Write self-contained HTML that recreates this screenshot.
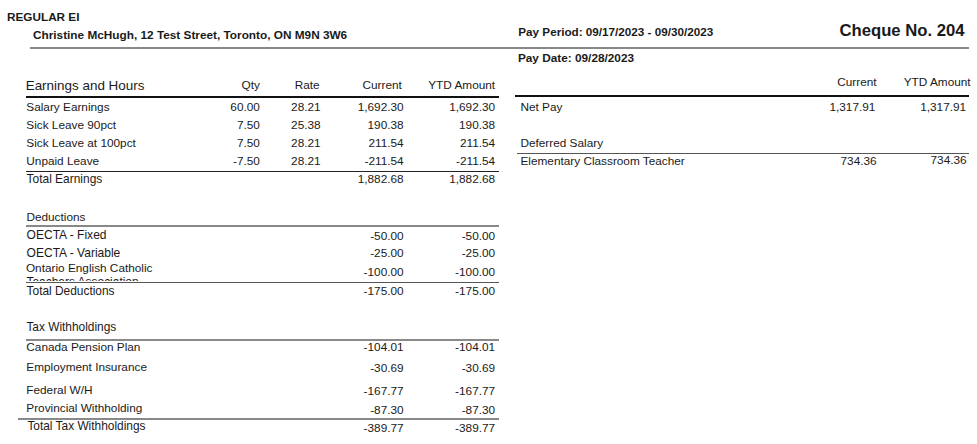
<!DOCTYPE html>
<html><head><meta charset="utf-8"><title>Pay Stub</title>
<style>
html,body{margin:0;padding:0;background:#fff;}
body{width:977px;height:444px;position:relative;overflow:hidden;font-family:"Liberation Sans",sans-serif;color:#1a1a1a;}
.t{position:absolute;white-space:nowrap;line-height:0;}
.r{text-align:right;}
.ln{position:absolute;}
.clip{position:absolute;overflow:hidden;}
</style></head><body>

<div class="t" style="top:16.93px;font-size:11.75px;font-weight:bold;left:7.00px;">REGULAR EI</div>
<div class="t" style="top:34.71px;font-size:11.8px;font-weight:bold;left:33.00px;">Christine McHugh, 12 Test Street, Toronto, ON M9N 3W6</div>
<div class="t" style="top:32.35px;font-size:11.7px;font-weight:bold;left:518.30px;">Pay Period: 09/17/2023 - 09/30/2023</div>
<div class="t" style="top:58.41px;font-size:11.8px;font-weight:bold;left:517.95px;">Pay Date: 09/28/2023</div>
<div class="t r" style="top:31.21px;font-size:16.7px;font-weight:bold;right:12.40px;">Cheque No. 204</div>
<div class="t" style="top:85.94px;font-size:13.45px;left:25.70px;">Earnings and Hours</div>
<div class="t r" style="top:84.61px;font-size:11.8px;right:717.15px;">Qty</div>
<div class="t r" style="top:84.61px;font-size:11.8px;right:657.40px;">Rate</div>
<div class="t r" style="top:84.61px;font-size:11.8px;right:575.15px;">Current</div>
<div class="t r" style="top:84.61px;font-size:11.8px;right:481.90px;">YTD Amount</div>
<div class="t" style="top:106.66px;font-size:11.8px;left:26.30px;">Salary Earnings</div>
<div class="t r" style="top:106.66px;font-size:11.8px;right:717.15px;">60.00</div>
<div class="t r" style="top:106.66px;font-size:11.8px;right:656.40px;">28.21</div>
<div class="t r" style="top:106.66px;font-size:11.8px;right:573.40px;">1,692.30</div>
<div class="t r" style="top:106.66px;font-size:11.8px;right:481.90px;">1,692.30</div>
<div class="t" style="top:124.66px;font-size:11.8px;left:26.30px;">Sick Leave 90pct</div>
<div class="t r" style="top:124.66px;font-size:11.8px;right:717.15px;">7.50</div>
<div class="t r" style="top:124.66px;font-size:11.8px;right:656.40px;">25.38</div>
<div class="t r" style="top:124.66px;font-size:11.8px;right:573.40px;">190.38</div>
<div class="t r" style="top:124.66px;font-size:11.8px;right:481.90px;">190.38</div>
<div class="t" style="top:142.91px;font-size:11.8px;left:26.30px;">Sick Leave at 100pct</div>
<div class="t r" style="top:142.91px;font-size:11.8px;right:717.15px;">7.50</div>
<div class="t r" style="top:142.91px;font-size:11.8px;right:656.40px;">28.21</div>
<div class="t r" style="top:142.91px;font-size:11.8px;right:573.40px;">211.54</div>
<div class="t r" style="top:142.91px;font-size:11.8px;right:481.90px;">211.54</div>
<div class="t" style="top:160.91px;font-size:11.8px;left:26.30px;">Unpaid Leave</div>
<div class="t r" style="top:160.91px;font-size:11.8px;right:717.15px;">-7.50</div>
<div class="t r" style="top:160.91px;font-size:11.8px;right:656.40px;">28.21</div>
<div class="t r" style="top:160.91px;font-size:11.8px;right:573.40px;">-211.54</div>
<div class="t r" style="top:160.91px;font-size:11.8px;right:481.90px;">-211.54</div>
<div class="t" style="top:178.86px;font-size:11.95px;left:26.60px;">Total Earnings</div>
<div class="t r" style="top:179.41px;font-size:11.8px;right:573.40px;">1,882.68</div>
<div class="t r" style="top:178.91px;font-size:11.8px;right:481.90px;">1,882.68</div>
<div class="t" style="top:216.91px;font-size:11.8px;left:26.40px;">Deductions</div>
<div class="t" style="top:235.34px;font-size:12.02px;left:26.60px;">OECTA - Fixed</div>
<div class="t r" style="top:235.91px;font-size:11.8px;right:573.40px;">-50.00</div>
<div class="t r" style="top:235.91px;font-size:11.8px;right:481.90px;">-50.00</div>
<div class="t" style="top:253.09px;font-size:12.02px;left:26.60px;">OECTA - Variable</div>
<div class="t r" style="top:253.41px;font-size:11.8px;right:573.40px;">-25.00</div>
<div class="t r" style="top:253.41px;font-size:11.8px;right:481.90px;">-25.00</div>
<div class="t" style="top:268.41px;font-size:11.8px;left:25.95px;">Ontario English Catholic</div>
<div class="t r" style="top:271.66px;font-size:11.8px;right:573.40px;">-100.00</div>
<div class="t r" style="top:271.66px;font-size:11.8px;right:481.90px;">-100.00</div>
<div class="t" style="top:290.88px;font-size:11.9px;left:26.60px;">Total Deductions</div>
<div class="t r" style="top:290.91px;font-size:11.8px;right:573.40px;">-175.00</div>
<div class="t r" style="top:290.91px;font-size:11.8px;right:481.90px;">-175.00</div>
<div class="t" style="top:327.13px;font-size:11.9px;left:26.40px;">Tax Withholdings</div>
<div class="t" style="top:347.16px;font-size:11.8px;left:26.30px;">Canada Pension Plan</div>
<div class="t r" style="top:347.16px;font-size:11.8px;right:573.40px;">-104.01</div>
<div class="t r" style="top:347.16px;font-size:11.8px;right:481.90px;">-104.01</div>
<div class="t" style="top:367.16px;font-size:11.8px;left:26.30px;">Employment Insurance</div>
<div class="t r" style="top:367.91px;font-size:11.8px;right:573.40px;">-30.69</div>
<div class="t r" style="top:367.91px;font-size:11.8px;right:481.90px;">-30.69</div>
<div class="t" style="top:390.16px;font-size:11.8px;left:26.30px;">Federal W/H</div>
<div class="t r" style="top:391.41px;font-size:11.8px;right:573.40px;">-167.77</div>
<div class="t r" style="top:391.41px;font-size:11.8px;right:481.90px;">-167.77</div>
<div class="t" style="top:408.41px;font-size:11.8px;left:26.30px;">Provincial Withholding</div>
<div class="t r" style="top:410.16px;font-size:11.8px;right:573.40px;">-87.30</div>
<div class="t r" style="top:410.16px;font-size:11.8px;right:481.90px;">-87.30</div>
<div class="t" style="top:426.38px;font-size:11.9px;left:27.40px;">Total Tax Withholdings</div>
<div class="t r" style="top:427.66px;font-size:11.8px;right:573.40px;">-389.77</div>
<div class="t r" style="top:427.66px;font-size:11.8px;right:481.90px;">-389.77</div>
<div class="t r" style="top:82.16px;font-size:11.8px;right:100.40px;">Current</div>
<div class="t r" style="top:82.16px;font-size:11.8px;right:6.40px;">YTD Amount</div>
<div class="t" style="top:107.16px;font-size:11.8px;left:520.45px;">Net Pay</div>
<div class="t r" style="top:107.16px;font-size:11.8px;right:101.65px;">1,317.91</div>
<div class="t r" style="top:107.16px;font-size:11.8px;right:10.90px;">1,317.91</div>
<div class="t" style="top:142.91px;font-size:11.8px;left:520.45px;">Deferred Salary</div>
<div class="t" style="top:160.91px;font-size:11.8px;left:520.45px;">Elementary Classroom Teacher</div>
<div class="t r" style="top:160.91px;font-size:11.8px;right:100.40px;">734.36</div>
<div class="t r" style="top:159.66px;font-size:11.8px;right:10.40px;">734.36</div>
<div class="clip" style="left:25px;top:277px;width:200px;height:4px;"><div class="t" style="left:1.5px;top:5.31px;font-size:11.95px;">Teachers Association</div></div>
<div class="ln" style="left:30px;width:939px;top:47px;height:2px;background:#888;"></div>
<div class="ln" style="left:25.5px;width:473.0px;top:96px;height:2px;background:#111;"></div>
<div class="ln" style="left:25.5px;width:473.25px;top:171px;height:1px;background:#222;"></div>
<div class="ln" style="left:25.5px;width:473.25px;top:225px;height:2px;background:#888;"></div>
<div class="ln" style="left:25.5px;width:473.25px;top:282px;height:1px;background:#555;"></div>
<div class="ln" style="left:25.5px;width:473.25px;top:339px;height:2px;background:#8a8a8a;"></div>
<div class="ln" style="left:18.25px;width:480.5px;top:418px;height:2px;background:#888;"></div>
<div class="ln" style="left:515px;width:453.5px;top:95px;height:2px;background:#111;"></div>
<div class="ln" style="left:517px;width:451.5px;top:153px;height:1px;background:#555;"></div>
</body></html>
